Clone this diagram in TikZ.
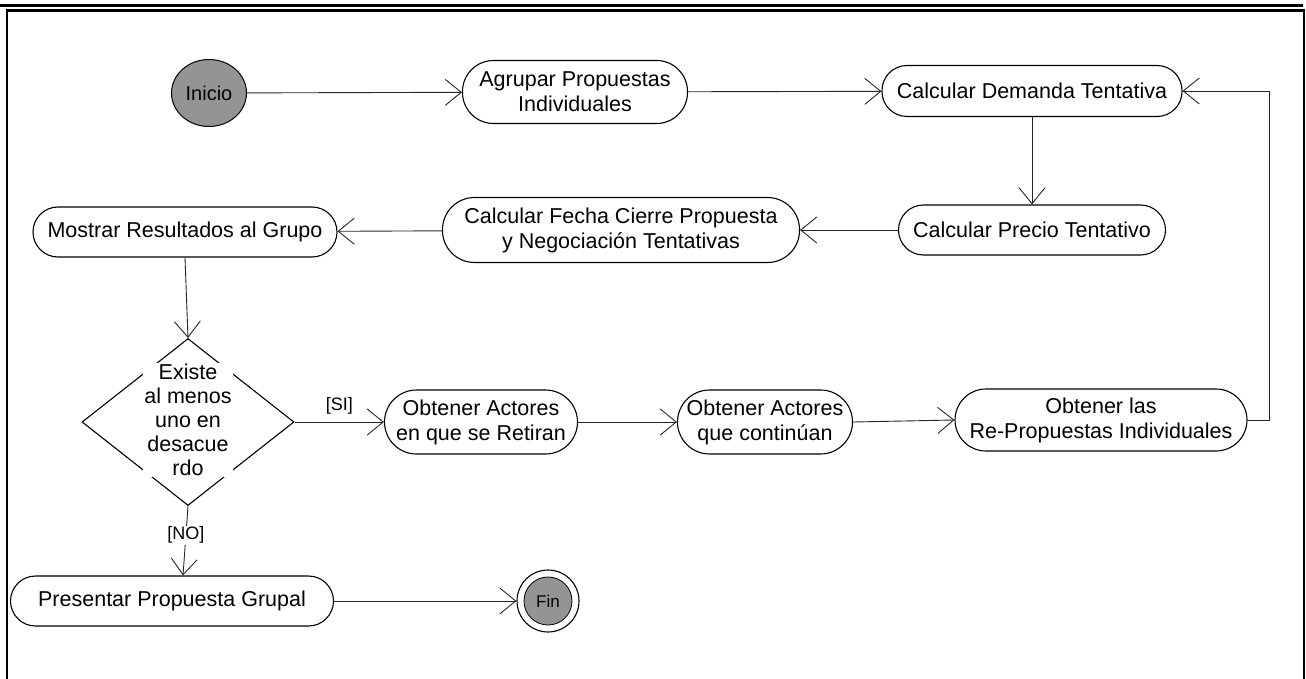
\documentclass[tikz,border=0pt]{standalone}
\usepackage{fontspec}
\setmainfont{Liberation Sans}
\usetikzlibrary{shapes.geometric,arrows.meta,calc}

\tikzset{
  act/.style={draw, line width=1.1pt, rounded corners=#1, align=center, inner sep=0pt,
    font=\fontsize{21.5}{25}\selectfont},
  act/.default=25pt,
  flow/.style={line width=0.9pt, draw=black!85,
    -{Straight Barb[length=16pt,width=26pt,line width=0.9pt]}},
  guard/.style={font=\fontsize{18}{20}\selectfont, inner sep=1pt},
  startnode/.style={draw, ellipse, line width=1pt, fill=black!42, inner sep=0pt,
    font=\fontsize{20}{22}\selectfont},
  frameline/.style={line width=2.6pt}
}

\begin{document}
\begin{tikzpicture}[x=1pt, y=-1pt]
  \useasboundingbox (0,0) rectangle (1306,679);

  % page frame
  \draw[frameline] (0,5.5) -- (1303,5.5);
  \draw[frameline] (7,679) -- (7,10.5) -- (1304,10.5) -- (1304,679);

  % nodes
  \node[startnode, minimum width=75pt, minimum height=67pt] (ini) at (209,93) {Inicio};
  \node[act=31pt, minimum width=225pt, minimum height=63pt] (agr) at (575,92)
    {Agrupar Propuestas\\Individuales};
  \node[act, minimum width=300pt, minimum height=51pt] (dem) at (1032,91)
    {Calcular Demanda Tentativa};
  \node[act, minimum width=267pt, minimum height=50pt] (pre) at (1032,230)
    {Calcular Precio Tentativo};
  \node[act=32pt, minimum width=357pt, minimum height=65pt] (fec) at (621,230)
    {Calcular Fecha Cierre Propuesta\\y Negociación Tentativas};
  \node[act, minimum width=304pt, minimum height=50pt] (mos) at (185,232)
    {Mostrar Resultados al Grupo};

  \node[draw, diamond, line width=1.1pt, minimum width=212pt, minimum height=167pt,
    inner sep=0pt] (dec) at (188,422) {};
  \node[fill=white, align=center, inner sep=1pt, font=\fontsize{21.5}{24}\selectfont]
    (dectext) at (188,420) {Existe\\al menos\\uno en\\desacue\\rdo};

  \node[act=32pt, minimum width=193pt, minimum height=64pt] (ret) at (481,422)
    {Obtener Actores\\en que se Retiran};
  \node[act=32pt, minimum width=175pt, minimum height=64pt] (con) at (765,422)
    {Obtener Actores\\que continúan};
  \node[act=31pt, minimum width=292pt, minimum height=62pt] (las) at (1101,420)
    {Obtener las\\Re-Propuestas Individuales};
  \node[act, minimum width=323pt, minimum height=50pt] (prs) at (172,601)
    {Presentar Propuesta Grupal};

  \node[draw, circle, line width=1.1pt, minimum size=62pt, inner sep=0pt] (fin) at (548,601) {};
  \node[circle, draw, line width=0.8pt, fill=black!42, minimum size=48pt, inner sep=0pt,
    font=\fontsize{17}{19}\selectfont] (fincore) at (fin.center) {Fin};

  \coordinate (loop) at (1269,91);

  % connectors
  \draw[flow] (ini) -- (agr);
  \draw[flow] (agr) -- (dem);
  \draw[flow] (dem) -- (pre);
  \draw[flow] (pre) -- (fec);
  \draw[flow] (fec) -- (mos);
  \draw[flow] (mos.south) -- (dec.north);
  \draw[flow] (dec.east) -- node[guard, above=6pt, pos=0.5] {[SI]} (ret.west);
  \draw[flow] (ret) -- (con);
  \draw[flow] (con.east) -- (las.west);
  \draw[flow] (las.east) -| (loop) -- (dem.east);
  \draw[flow] (dec.south) -- node[guard, fill=white, pos=0.42] {[NO]} ([xshift=11pt]prs.north);
  \draw[flow] (prs) -- (fin);
\end{tikzpicture}
\end{document}
